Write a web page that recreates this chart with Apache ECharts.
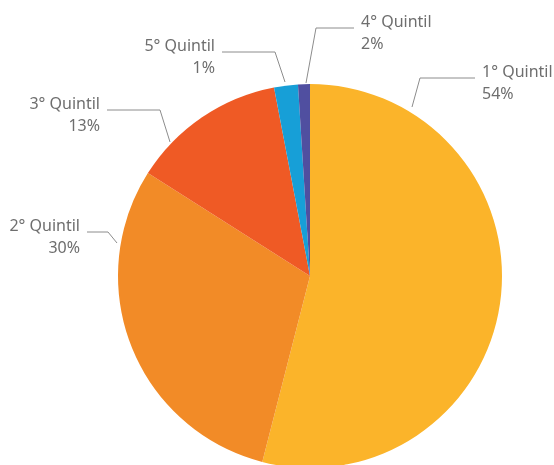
<!DOCTYPE html>
<html><head><meta charset="utf-8">
<script src="https://cdn.jsdelivr.net/npm/echarts@6/dist/echarts.min.js"></script>
<style>html,body{margin:0;padding:0;background:#fff}#c{width:554px;height:465px}</style>
</head><body><div id="c"></div>
<script>
const names = ['1° Quintil', '2° Quintil', '3° Quintil', '5° Quintil', '4° Quintil'];
const values = [54, 30, 13, 2, 1];
const labelPct = ['54%', '30%', '13%', '1%', '2%'];
const colors = ['#FBB42A', '#F28B27', '#EF5A25', '#179FD7', '#504FA0'];
// label placement (layout only): line start, elbow, end, text anchor side
const labelPlacement = [
  { start: [412, 107], elbow: [420, 78], end: [475, 78], tx: 482, align: 'left' },
  { start: [117, 243], elbow: [108, 232], end: [87, 232], tx: 80, align: 'right' },
  { start: [170, 142], elbow: [160, 110], end: [107, 110], tx: 100, align: 'right' },
  { start: [285, 82], elbow: [275, 52], end: [222, 52], tx: 215, align: 'right' },
  { start: [306, 83], elbow: [316, 28], end: [354, 28], tx: 361, align: 'left' }
];
const chart = echarts.init(document.getElementById('c'), null, { renderer: 'canvas' });
chart.setOption({
  animation: false,
  series: [{
    type: 'pie',
    center: [310, 276],
    radius: 192,
    startAngle: 90,
    clockwise: true,
    avoidLabelOverlap: false,
    itemStyle: { borderWidth: 0 },
    label: {
      show: true,
      position: 'outside',
      alignTo: 'none',
      overflow: 'none',
      edgeDistance: 0,
      fontFamily: 'Noto Sans',
      fontSize: 16,
      lineHeight: 22,
      color: '#6e6e6e',
      formatter: p => names[p.dataIndex] + '\n' + labelPct[p.dataIndex]
    },
    labelLine: { show: true, lineStyle: { color: '#8c8c8c', width: 1 } },
    labelLayout: function (params) {
      const lp = labelPlacement[params.dataIndex];
      return {
        x: lp.tx,
        y: lp.end[1] - 17,
        align: lp.align,
        verticalAlign: 'top',
        width: 90,
        labelLinePoints: [lp.start, lp.elbow, lp.end]
      };
    },
    emphasis: { disabled: true },
    data: names.map((n, i) => ({ name: n, value: values[i], itemStyle: { color: colors[i] } }))
  }]
});
</script></body></html>
